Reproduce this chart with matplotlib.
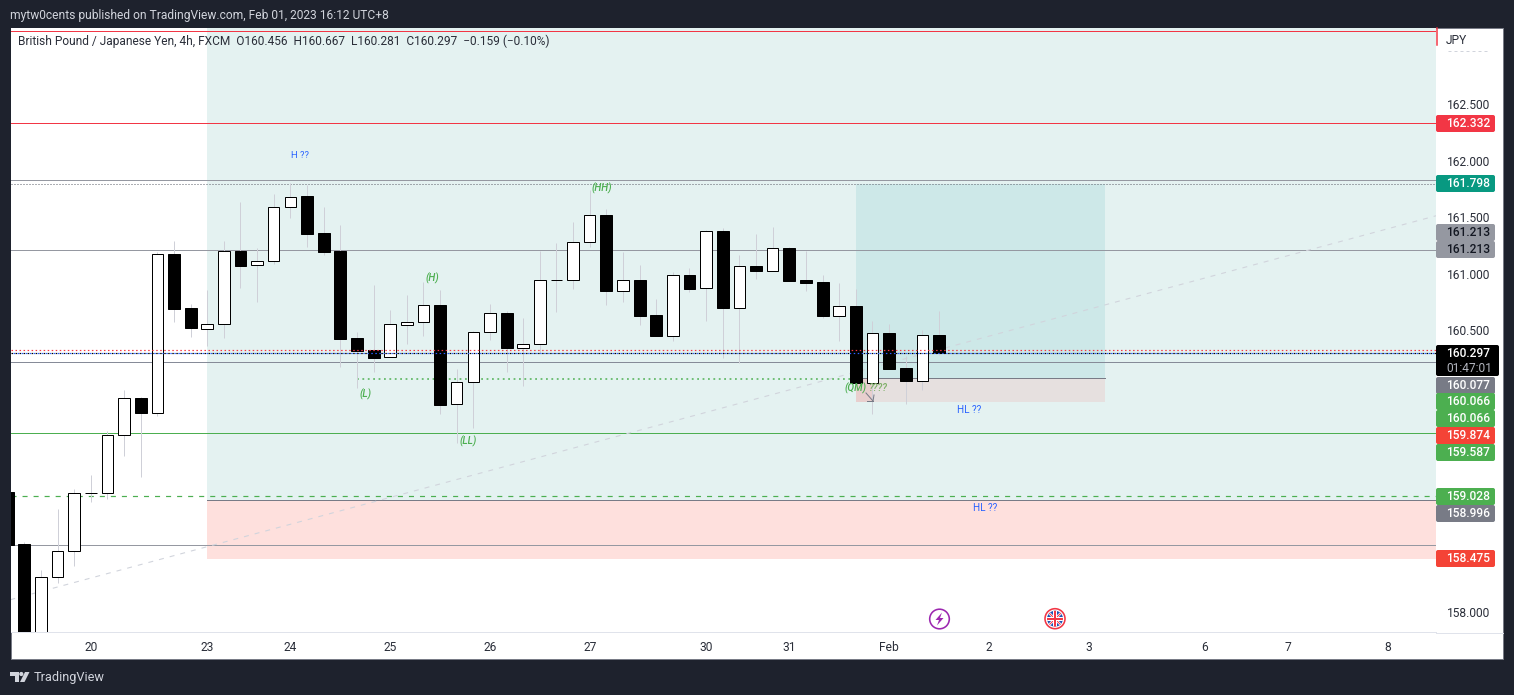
import numpy as np
import matplotlib
matplotlib.use("Agg")
import matplotlib.pyplot as plt
from matplotlib.patches import Rectangle, FancyBboxPatch, Circle, Polygon
from matplotlib.lines import Line2D

plt.rcParams['font.family'] = ['Roboto', 'DejaVu Sans']

# ---------- data ----------
bar_index = np.arange(-1, 56)
opens = [159.061,158.603,157.574,158.308,158.538,159.052,159.052,159.566,159.894,159.767,161.171,160.692,160.506,160.550,161.200,161.074,161.109,161.588,161.688,161.360,161.200,160.429,160.323,160.258,160.547,160.568,160.722,159.841,160.036,160.480,160.651,160.343,160.373,160.941,160.941,161.277,161.519,160.848,160.943,160.633,160.449,160.988,160.870,161.378,160.698,161.067,161.026,161.227,160.943,160.925,160.627,160.713,160.033,160.473,160.163,160.050,160.456]
highs = [159.070,158.621,158.372,158.913,159.090,159.215,159.605,159.968,159.909,161.189,161.289,160.728,160.855,161.289,161.637,161.230,161.706,161.800,161.785,161.590,161.431,160.480,160.899,160.677,160.810,160.928,160.855,160.154,160.494,160.730,160.668,160.604,161.200,161.269,161.460,161.741,161.573,161.191,161.076,160.775,161.014,161.050,161.386,161.404,161.165,161.351,161.413,161.240,161.200,160.988,160.917,160.863,160.580,160.553,160.269,160.500,160.667]
lows = [158.590,157.500,157.500,158.260,158.410,158.978,159.004,159.383,159.197,159.738,160.574,160.438,160.358,160.432,160.875,160.751,161.085,161.493,161.238,161.165,160.175,159.986,160.130,160.258,160.376,160.447,159.755,159.498,159.634,160.411,160.130,160.006,160.299,160.660,160.863,161.238,160.722,160.748,160.544,160.447,160.402,160.837,160.580,160.254,160.205,160.952,161.026,160.934,160.846,160.606,160.402,160.033,159.758,160.154,159.844,159.968,160.281]
closes = [158.594,157.574,158.308,158.538,159.052,159.052,159.566,159.894,159.767,161.171,160.686,160.520,160.550,161.198,161.070,161.109,161.588,161.682,161.351,161.194,160.420,160.316,160.254,160.550,160.568,160.719,159.838,160.036,160.480,160.648,160.340,160.373,160.941,160.941,161.277,161.517,160.848,160.941,160.627,160.447,160.985,160.863,161.375,160.695,161.065,161.023,161.224,160.934,160.917,160.624,160.710,160.033,160.471,160.154,160.048,160.453,160.297]

time_tick_bars = [4, 11, 16, 22, 28, 34, 41, 46, 52, 58, 64, 71, 76, 82]
time_tick_labels = ['20','23','24','25','26','27','30','31','Feb','2','3','6','7','8']
price_ticks = [158.0, 160.5, 161.0, 161.5, 162.0, 162.5]

top_line = 163.148
resistance = 162.332
upper_band = 161.833
tp_level = 161.798
mid_level = 161.213
red_dotted = 160.320
last_close = 160.297
gray_level = 160.215
qm_level = 160.066
entry_level = 160.077
stop_level = 159.866
green_level = 159.587
dashed_level = 159.028
zone_split = 158.996
lower_gray = 158.591
zone_bottom = 158.470
trend_start = (-0.84, 158.109)
trend_end = (84.9, 161.513)

label_texts = ['162.332','161.798','161.213','161.213','160.077','160.066','160.066','159.874','159.587','159.028','158.996','158.475']
label_colors = ['#f23645','#089981','#9598a1','#9598a1','#787b86','#4caf50','#4caf50','#f44336','#4caf50','#4caf50','#787b86','#f44336']
label_text_colors = ['white','white','#131722','#131722','white','white','white','white','white','white','white','white']
label_tops = [115,175,224,241,377,393,410,427,444,488,505,550]

W, H = 1514, 695
L, R, T, B = 11, 1436, 28, 632
PX_PER_BAR = 16.63
X0 = 24.3
PX_PER_PRICE = 112.8
px = 72 / 100

fig = plt.figure(figsize=(W/100, H/100), dpi=100, facecolor='#1e222d')

# background chrome
bg = fig.add_axes([0, 0, 1, 1], zorder=0)
bg.set_xlim(0, W); bg.set_ylim(H, 0); bg.axis('off')
bg.add_patch(Rectangle((10.5, 27.5), 1503-10.5, 659-27.5, fc='white', ec='#787b86', lw=1*px))

# main chart
ax = fig.add_axes([L/W, 1-B/H, (R-L)/W, (B-T)/H], zorder=1)
ax.set_xlim((L-X0)/PX_PER_BAR, (R-X0)/PX_PER_BAR)
y_top = 158+(612-T)/PX_PER_PRICE
ax.set_ylim(158-(B-612)/PX_PER_PRICE, y_top)
ax.set_facecolor('white')
for s in ['left','right','top']:
    ax.spines[s].set_visible(False)
ax.spines['bottom'].set_color('#e0e3eb')
ax.spines['bottom'].set_linewidth(1*px)

ax.yaxis.tick_right()
ax.set_yticks(price_ticks)
ax.set_yticklabels([f'{p:.3f}' for p in price_ticks])
ax.tick_params(axis='y', length=0, pad=11*px, labelsize=12*px, labelcolor='#2a2e39')
ax.set_xticks(time_tick_bars)
ax.set_xticklabels(time_tick_labels)
ax.tick_params(axis='x', length=0, pad=9*px, labelsize=12*px, labelcolor='#2a2e39')

x_zone_left = (207-X0)/PX_PER_BAR
x_pos_left = (856-X0)/PX_PER_BAR
x_pos_right = (1105-X0)/PX_PER_BAR
x_r = (R-X0)/PX_PER_BAR

# zones
ax.add_patch(Rectangle((x_zone_left, zone_split), x_r-x_zone_left, y_top-zone_split, fc='#e4f2f1', ec='none', zorder=1))
ax.add_patch(Rectangle((x_zone_left, zone_bottom), x_r-x_zone_left, zone_split-zone_bottom, fc='#fee0dd', ec='none', zorder=1))
ax.add_patch(Rectangle((x_pos_left, entry_level), x_pos_right-x_pos_left, tp_level-entry_level, fc='#cde8e8', ec='none', zorder=1.1))
ax.add_patch(Rectangle((x_pos_left, stop_level), x_pos_right-x_pos_left, entry_level-stop_level, fc='#e6e0df', ec='none', zorder=1.1))
ax.add_patch(Rectangle((x_pos_left, stop_level), 0.98, entry_level-stop_level, fc='#e8cfce', ec='none', zorder=1.15))

# horizontal levels
lw = 1*px
ax.axhline(top_line, color='#f23645', lw=lw, zorder=2)
ax.axhline(resistance, color='#f23645', lw=lw, zorder=2)
ax.axhline(upper_band, color='#9598a1', lw=lw, zorder=2)
ax.axhline(tp_level, color='#5d606b', lw=lw, ls=(0, (1, 2)), zorder=2)
ax.axhline(mid_level, color='#9598a1', lw=lw, zorder=2)
ax.axhline(gray_level, color='#868b98', lw=lw, zorder=2)
ax.axhline(green_level, color='#4caf50', lw=lw, zorder=2)
ax.axhline(dashed_level, color='#4caf50', lw=1.2*px, ls=(0, (4.2, 5)), zorder=2)
ax.plot([x_zone_left, x_r], [zone_split, zone_split], color='#787b86', lw=lw, zorder=2)
ax.plot([x_pos_left, x_pos_right], [entry_level, entry_level], color='#787b86', lw=lw, zorder=2.1)
ax.axhline(lower_gray, color='#9598a1', lw=lw, zorder=2)
ax.plot([trend_start[0], trend_end[0]], [trend_start[1], trend_end[1]], color='#d1d4dc', lw=1.1*px, ls=(0, (4.5, 5.5)), zorder=2)
ax.plot([20, 50], [qm_level, qm_level], color='#4caf50', lw=1.5*px, ls=(0, (1.2, 2.4)), zorder=2)

# candles
o, h, l, c = map(np.array, (opens, highs, lows, closes))
ax.vlines(bar_index, l, h, color='#cfd0d8', lw=1*px, zorder=3)
up = c >= o
ax.bar(bar_index[up], (c-o)[up], bottom=o[up], width=0.69, fc='white', ec='black', lw=1*px, zorder=4)
ax.bar(bar_index[~up], (c-o)[~up], bottom=o[~up], width=0.72, fc='black', ec='black', lw=1*px, zorder=4)

# dotted price lines above candles
ax.axhline(red_dotted, color='#f23645', lw=1.2*px, ls=(0, (1.25, 2.1)), zorder=5)
ax.axhline(last_close, color='#000000', lw=1.2*px, ls=(0, (1.25, 2.1)), zorder=5)
ax.axhline(last_close, color='#2962ff', lw=1.2*px, ls=(1.65, (1.25, 2.1)), zorder=5)

# chart annotations placed at bar/price
gr = '#4caf50'
ann = dict(ha='center', va='center', fontsize=10*px, zorder=6, fontweight='medium')
ax.text(34.7, 161.755, '(HH)', color=gr, style='italic', **ann)
ax.text(24.55, 160.955, '(H)', color=gr, style='italic', **ann)
ax.text(20.5, 159.93, '(L)', color=gr, style='italic', **ann)
ax.text(26.7, 159.51, '(LL)', color=gr, style='italic', **ann)
ax.text(50.0, 159.985, '(QM)', color=gr, style='italic', **ann)
ax.text(51.3, 159.985, '????', color='#7fb069', style='italic', **ann)
ax.text(16.6, 162.045, 'H ??', color='#2962ff', ha='center', va='center', fontsize=9.5*px, zorder=6)
ax.text(56.8, 159.79, 'HL ??', color='#2962ff', ha='center', va='center', fontsize=10*px, zorder=6)
ax.text(57.8, 158.92, 'HL ??', color='#2962ff', ha='center', va='center', fontsize=10*px, zorder=6)

# front overlay in pixel units
fr = fig.add_axes([0, 0, 1, 1], zorder=2)
fr.set_xlim(0, W); fr.set_ylim(H, 0); fr.axis('off'); fr.patch.set_alpha(0)

fr.text(10, 15, 'mytw0cents published on TradingView.com, Feb 01, 2023 16:12 UTC+8',
        color='#d1d4dc', fontsize=12*px, va='center', ha='left')
fr.text(18, 41.5, 'British Pound / Japanese Yen, 4h, FXCM  O160.456  H160.667  L160.281  C160.297  \u22120.159 (\u22120.10%)',
        color='#2a2e39', fontsize=11.9*px, va='center', ha='left')
fr.text(1446, 40, 'JPY', color='#2a2e39', fontsize=12*px, va='center', ha='left')
fr.add_line(Line2D([1448, 1487], [51, 51], color='#d1d4dc', lw=1*px, ls=(0, (3, 3))))
fr.add_line(Line2D([1436.7, 1436.7], [28, 45], color='#f23645', lw=1.5*px))
fr.add_line(Line2D([1436, 1503], [632.5, 632.5], color='#e0e3eb', lw=1*px))

# price labels
for txt, col, tcol, top in zip(label_texts, label_colors, label_text_colors, label_tops):
    fr.add_patch(FancyBboxPatch((1436, top), 59, 17, boxstyle='round,pad=0,rounding_size=2', fc=col, ec='none'))
    fr.text(1446, top+8.5, txt, color=tcol, fontsize=12*px, va='center', ha='left', fontweight='medium')
fr.add_patch(FancyBboxPatch((1436, 345), 63, 31, boxstyle='round,pad=0,rounding_size=2', fc='black', ec='none'))
fr.text(1446, 353.5, f'{last_close:.3f}', color='white', fontsize=12*px, va='center', ha='left', fontweight='medium')
fr.text(1446, 368, '01:47:01', color='#b2b5be', fontsize=12*px, va='center', ha='left')

# small arrow
for xs, ys in [([866, 873], [393, 401]), ([867, 873], [401, 401]), ([873, 874], [401, 395])]:
    fr.add_line(Line2D(xs, ys, color='#787b86', lw=1*px))

# purple event icon
fr.add_patch(Circle((939.5, 619), 9.8, fc='white', ec='#9c27b0', lw=1.6*px))
fr.add_patch(Polygon([(942, 612.5), (935.5, 620), (939, 620), (937, 625.5), (943.5, 618), (940, 618)], fc='#9c27b0', ec='none'))

# UK icon
fr.add_patch(Circle((1055, 618.7), 10, fc='white', ec='#f23645', lw=1.6*px))
disk = Circle((1055, 618.7), 8, fc='#1e53b4', ec='none')
fr.add_patch(disk)
for (xs, ys, col, w) in [
    ([1048, 1062], [612, 626], 'white', 2.5), ([1048, 1062], [626, 612], 'white', 2.5),
    ([1048, 1062], [612, 626], '#f23645', 1), ([1048, 1062], [626, 612], '#f23645', 1),
    ([1047, 1063], [618.7, 618.7], 'white', 4), ([1055, 1055], [610.7, 626.7], 'white', 4),
    ([1047, 1063], [618.7, 618.7], '#f23645', 2), ([1055, 1055], [610.7, 626.7], '#f23645', 2)]:
    ln = Line2D(xs, ys, color=col, lw=w*px)
    fr.add_line(ln)
    ln.set_clip_path(disk)

# TradingView logo
logo = '#d1d4dc'
fr.add_patch(Polygon([(10, 672), (19, 672), (19, 682), (14.5, 682), (14.5, 676), (10, 676)], fc=logo, ec='none'))
fr.add_patch(Circle((21.3, 674), 2.1, fc=logo, ec='none'))
fr.add_patch(Polygon([(25, 672), (29.5, 672), (24.5, 682), (20, 682)], fc=logo, ec='none'))
fr.text(33.5, 677.5, 'TradingView', color='#d1d4dc', fontsize=12.8*px, va='center', ha='left')

fig.savefig('out.png', dpi=100, facecolor=fig.get_facecolor())
